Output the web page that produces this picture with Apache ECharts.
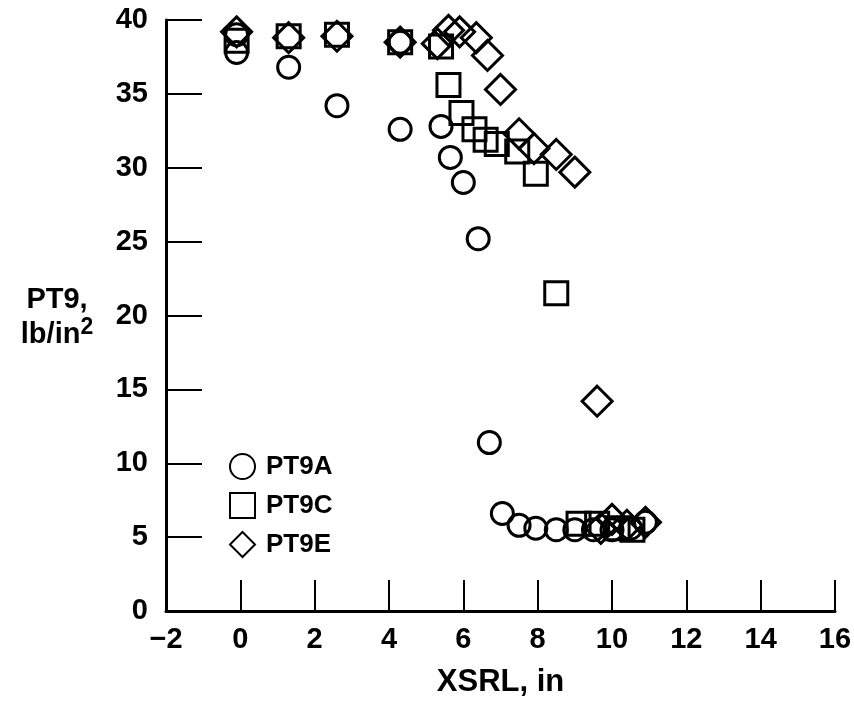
<!DOCTYPE html>
<html>
<head>
<meta charset="utf-8">
<script src="https://cdn.jsdelivr.net/npm/echarts@6/dist/echarts.min.js"></script>
<style>
  html, body { margin: 0; padding: 0; background: #fff; }
  #chart { width: 854px; height: 708px; }
</style>
</head>
<body>
<div id="chart"></div>
<script>
// PT9 vs XSRL
var pt9a = [
  [-0.1, 39.0], [-0.1, 37.8], [1.3, 36.8], [2.6, 34.2], [4.3, 38.5], [4.3, 32.6],
  [5.4, 32.8], [5.65, 30.7], [6.0, 29.0], [6.4, 25.2], [6.7, 11.4], [7.05, 6.6],
  [7.5, 5.8], [7.95, 5.6], [8.5, 5.5], [9.0, 5.5], [9.5, 5.5], [10.0, 5.5],
  [10.5, 5.6], [10.9, 6.0]
];
var pt9c = [
  [-0.1, 38.6], [1.3, 38.9], [2.6, 39.0], [4.3, 38.5], [5.4, 38.2], [5.6, 35.6],
  [5.95, 33.7], [6.3, 32.6], [6.6, 31.9], [6.9, 31.6], [7.45, 31.1], [7.95, 29.6],
  [8.5, 21.5], [9.1, 5.9], [9.6, 5.9], [10.15, 5.6], [10.55, 5.5]
];
var pt9e = [
  [-0.1, 39.2], [1.3, 38.8], [2.6, 38.9], [4.3, 38.5], [5.3, 38.4], [5.6, 39.3],
  [5.9, 39.2], [6.35, 38.8], [6.65, 37.6], [7.0, 35.3], [7.5, 32.3], [7.9, 31.3],
  [8.5, 30.9], [9.0, 29.7], [9.6, 14.2], [9.7, 5.6], [10.0, 6.2], [10.4, 5.8],
  [10.9, 6.0]
];
var seriesNames = ['PT9A', 'PT9C', 'PT9E'];
var xRange = [-2, 16, 2];
var yRange = [0, 40, 5];

var font = '"Liberation Sans", Arial, sans-serif';
var markStyle = { color: 'rgba(0,0,0,0)', borderColor: '#000', borderWidth: 3, opacity: 1 };

var chart = echarts.init(document.getElementById('chart'));
var option = {
  animation: false,
  backgroundColor: '#fff',
  grid: { left: 166, right: 19, top: 20, bottom: 97, outerBoundsMode: 'none' },
  legend: {
    orient: 'vertical',
    left: 224,
    top: 448,
    itemWidth: 25,
    itemHeight: 25,
    itemGap: 12,
    data: seriesNames,
    textStyle: { fontFamily: font, fontWeight: 'bold', fontSize: 26, color: '#000', padding: [0, 0, 0, 6] }
  },
  xAxis: {
    type: 'value',
    min: xRange[0], max: xRange[1], interval: xRange[2],
    name: 'XSRL, in',
    nameLocation: 'middle',
    nameGap: 56,
    nameTextStyle: { fontFamily: font, fontWeight: 'bold', fontSize: 31, color: '#000' },
    axisLine: { show: true, onZero: false, lineStyle: { color: '#000', width: 3 } },
    axisTick: { inside: true, length: 31, lineStyle: { color: '#000', width: 2 } },
    axisLabel: {
      fontFamily: font, fontWeight: 'bold', fontSize: 29, color: '#000', margin: 14,
      formatter: function (v) { return v < 0 ? '\u2212' + Math.abs(v) : String(v); }
    },
    splitLine: { show: false }
  },
  yAxis: {
    type: 'value',
    min: yRange[0], max: yRange[1], interval: yRange[2],
    axisLine: { show: true, onZero: false, lineStyle: { color: '#000', width: 3 } },
    axisTick: { inside: true, length: 36, lineStyle: { color: '#000', width: 2 } },
    axisLabel: { fontFamily: font, fontWeight: 'bold', fontSize: 29, color: '#000', margin: 18 },
    splitLine: { show: false }
  },
  graphic: [{
    type: 'text',
    x: 57,
    y: 283,
    style: {
      text: '{a|PT9,}\n{a|lb/in}{s|2}',
      align: 'center',
      rich: {
        a: { fontFamily: font, fontWeight: 'bold', fontSize: 29, color: '#000', lineHeight: 33 },
        s: { fontFamily: font, fontWeight: 'bold', fontSize: 23, color: '#000', verticalAlign: 'top', padding: [0, 0, 14, 0] }
      }
    }
  }],
  series: [
    { name: seriesNames[0], type: 'scatter', symbol: 'circle', symbolSize: 22, itemStyle: markStyle, data: pt9a },
    { name: seriesNames[1], type: 'scatter', symbol: 'rect', symbolSize: 23, itemStyle: markStyle, data: pt9c },
    { name: seriesNames[2], type: 'scatter', symbol: 'diamond', symbolSize: 30, itemStyle: markStyle, data: pt9e }
  ]
};
chart.setOption(option);
</script>
</body>
</html>
